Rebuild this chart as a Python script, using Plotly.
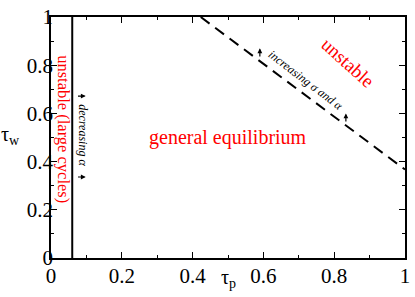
import plotly.graph_objects as go

# data
boundary_x = [0.06, 0.06]
boundary_y = [0.0, 1.0]
dashed_x = [0.423, 1.0]
dashed_y = [1.0, 0.367]
tick_vals = [0, 0.2, 0.4, 0.6, 0.8, 1]
tick_text = ["0", "0.2", "0.4", "0.6", "0.8", "1"]

FONT = "Liberation Serif, Times New Roman, serif"

fig = go.Figure()
fig.add_trace(go.Scatter(x=boundary_x, y=boundary_y, mode="lines",
                         line=dict(color="black", width=2), showlegend=False))
fig.add_trace(go.Scatter(x=dashed_x, y=dashed_y, mode="lines",
                         line=dict(color="black", width=2, dash="11px,7px"), showlegend=False))

axis_common = dict(range=[0, 1], tickvals=tick_vals, ticktext=tick_text,
                   ticks="inside", ticklen=6, tickwidth=1, tickcolor="black",
                   showline=True, linecolor="black", linewidth=1.5, mirror="ticks",
                   showgrid=False, zeroline=False, ticklabeloverflow="allow",
                   minor=dict(dtick=0.1, ticks="inside", ticklen=3, tickcolor="black", showgrid=False),
                   tickfont=dict(family=FONT, size=21, color="black"))

fig.update_xaxes(**axis_common, ticklabelstandoff=-2)
fig.update_yaxes(**axis_common, ticklabelstandoff=-8)

ann = []
# axis titles
ann.append(dict(x=-0.114, y=0.51, xref="paper", yref="paper", text="τ<sub>w</sub>",
                xanchor="center", yanchor="middle",
                showarrow=False, font=dict(family=FONT, size=20, color="black")))
ann.append(dict(x=0.5, y=-0.085, xref="paper", yref="paper", text="τ<sub>p</sub>",
                xanchor="center", yanchor="middle",
                showarrow=False, font=dict(family=FONT, size=20, color="black")))
# region labels
ann.append(dict(x=0.5, y=0.5, text="general equilibrium", showarrow=False,
                font=dict(family=FONT, size=20, color="red")))
ann.append(dict(x=0.838, y=0.81, text="unstable", showarrow=False, textangle=42,
                font=dict(family=FONT, size=19, color="red")))
ann.append(dict(x=0.033, y=0.536, text="unstable (large cycles)", showarrow=False, textangle=90,
                font=dict(family=FONT, size=16.5, color="red")))
ann.append(dict(x=0.09, y=0.51, text="<i>decreasing α</i>", showarrow=False, textangle=90,
                font=dict(family=FONT, size=12, color="black")))
ann.append(dict(x=0.719, y=0.74, text="<i>increasing σ and α</i>", showarrow=False, textangle=37.4,
                font=dict(family=FONT, size=12, color="black")))
# arrows
for yy in [0.672, 0.336]:
    ann.append(dict(x=0.098, y=yy, ax=0.072, ay=yy, xref="x", yref="y", axref="x", ayref="y",
                    text="", showarrow=True, arrowhead=2, arrowsize=0.8, arrowwidth=1.2, arrowcolor="black"))
for xx, y0, y1 in [(0.590, 0.83, 0.87), (0.833, 0.56, 0.60)]:
    ann.append(dict(x=xx, y=y1, ax=xx, ay=y0, xref="x", yref="y", axref="x", ayref="y",
                    text="", showarrow=True, arrowhead=2, arrowsize=0.8, arrowwidth=1.2, arrowcolor="black"))

fig.update_layout(width=415, height=297, margin=dict(l=51, r=5, t=8, b=39),
                  plot_bgcolor="white", paper_bgcolor="white", annotations=ann,
                  font=dict(family=FONT))
fig.write_html("out.html", config={"displayModeBar": False},
               post_script="document.body.style.margin='0';document.body.style.overflow='hidden';")
